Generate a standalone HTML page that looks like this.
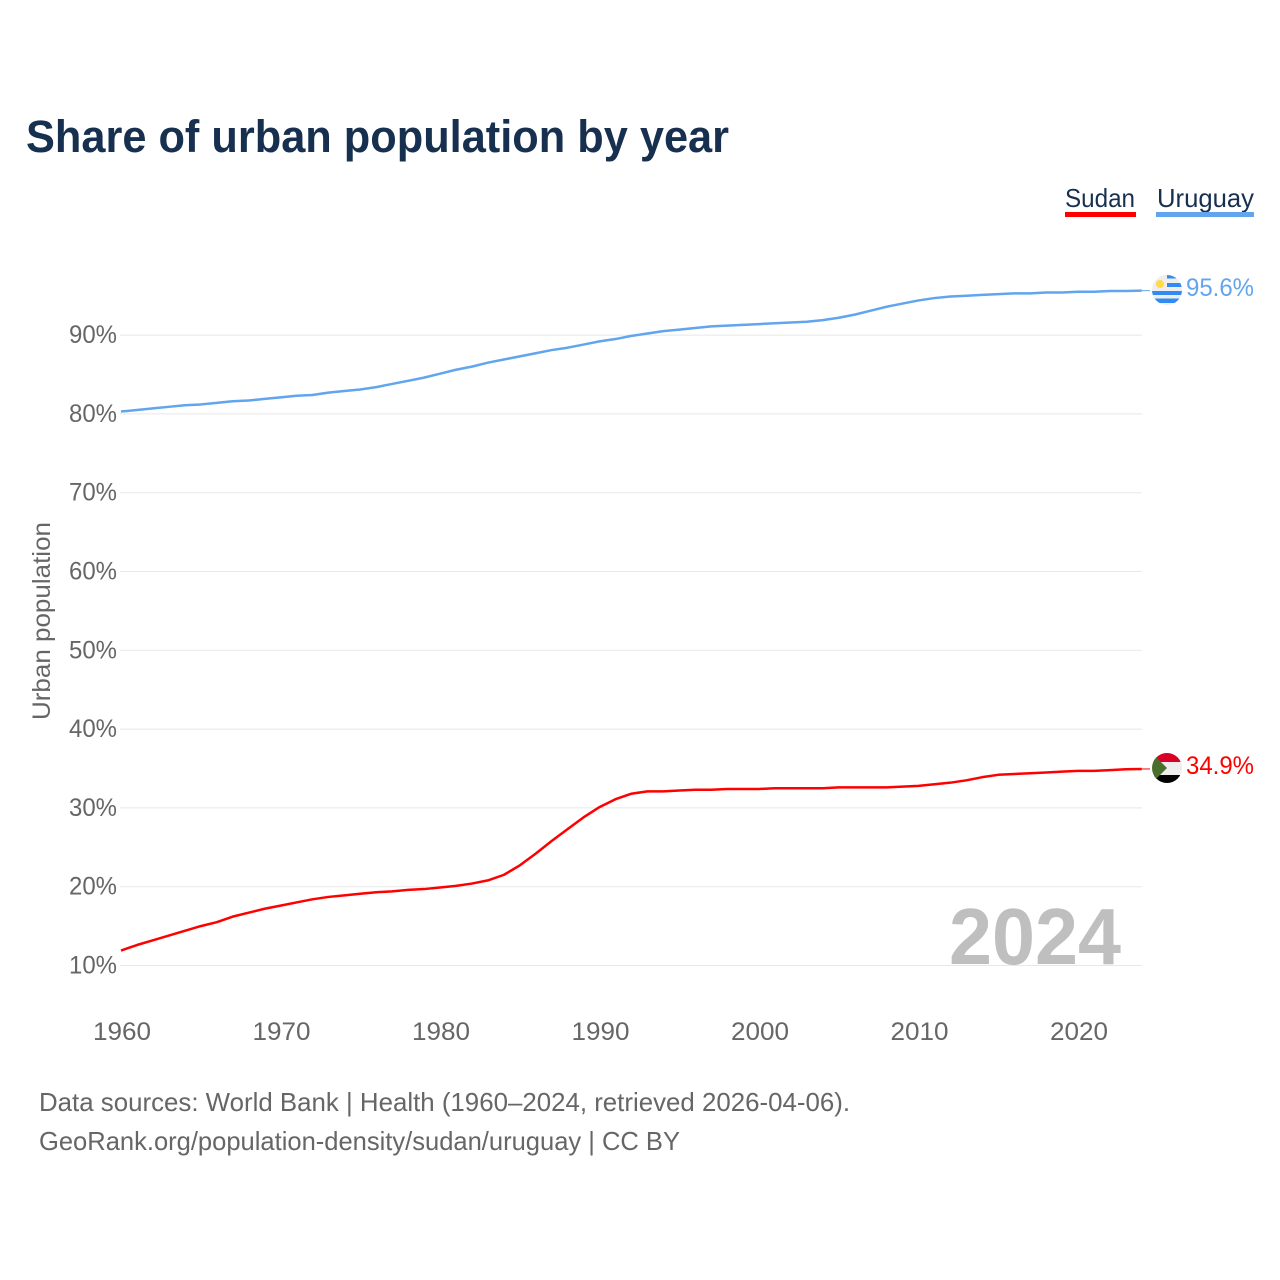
<!DOCTYPE html>
<html lang="en">
<head>
<meta charset="utf-8">
<title>Share of urban population by year</title>
<style>
html,body{margin:0;padding:0;background:#fff;}
svg{display:block;font-family:"Liberation Sans",sans-serif;}
</style>
</head>
<body>
<svg id="chart" xmlns="http://www.w3.org/2000/svg" width="1280" height="1280" viewBox="0 0 1280 1280">
  <defs>
    <clipPath id="clip-uy"><circle cx="1167" cy="290" r="15"/></clipPath>
    <clipPath id="clip-sd"><circle cx="1167" cy="768" r="15"/></clipPath>
  </defs>
  <rect width="1280" height="1280" fill="#fff"/>
  <text x="26" y="152" font-size="45" font-weight="700" fill="#17304f" textLength="703" lengthAdjust="spacingAndGlyphs">Share of urban population by year</text>

  <g>
    <g>
      <text x="1065" y="207" font-size="26" fill="#17304f" textLength="70" lengthAdjust="spacingAndGlyphs">Sudan</text>
      <rect x="1065" y="212" width="71" height="5" fill="#ff0000"/>
    </g>
    <g>
      <text x="1157" y="207" font-size="26" fill="#17304f" textLength="97" lengthAdjust="spacingAndGlyphs">Uruguay</text>
      <rect x="1156" y="212" width="98" height="5" fill="#60a5ee"/>
    </g>
  </g>

  <g id="grid"></g>
  <g id="yticks"></g>
  <g id="xticks"></g>

  <text transform="translate(50,720) rotate(-90)" font-size="25" fill="#666" textLength="198" lengthAdjust="spacingAndGlyphs">Urban population</text>
  <text x="1121" y="964" text-anchor="end" font-size="80" font-weight="700" fill="#bfbfbf" textLength="172" lengthAdjust="spacingAndGlyphs">2024</text>

  <g id="series"></g>

  <g clip-path="url(#clip-uy)">
    <rect x="1152" y="275" width="30" height="30" fill="#eeeeee"/>
    <rect x="1167" y="275" width="15" height="3.5" fill="#338af3"/>
    <rect x="1167" y="283" width="15" height="4" fill="#338af3"/>
    <rect x="1152" y="291" width="30" height="4" fill="#338af3"/>
    <rect x="1152" y="298.5" width="30" height="4.5" fill="#338af3"/>
    <circle cx="1160" cy="284" r="4" fill="#ffda44"/>
  </g>
  <g clip-path="url(#clip-sd)">
    <rect x="1152" y="753" width="30" height="9" fill="#d80027"/>
    <rect x="1152" y="762" width="30" height="13" fill="#eeeeee"/>
    <rect x="1152" y="775" width="30" height="8" fill="#000000"/>
    <polygon points="1152,753 1152,783 1167,768" fill="#496e2d"/>
  </g>

  <text id="label-uy" x="1186" y="296" font-size="25" fill="#60a5ee" textLength="68" lengthAdjust="spacingAndGlyphs"></text>
  <text id="label-sd" x="1186" y="774" font-size="25" fill="#ff0000" textLength="68" lengthAdjust="spacingAndGlyphs"></text>

  <g>
    <text x="39" y="1111" font-size="26" fill="#666" textLength="811" lengthAdjust="spacingAndGlyphs">Data sources: World Bank | Health (1960–2024, retrieved 2026-04-06).</text>
    <text x="39" y="1150" font-size="26" fill="#666" textLength="641" lengthAdjust="spacingAndGlyphs">GeoRank.org/population-density/sudan/uruguay | CC BY</text>
  </g>
</svg>
<script>
var startYear = 1960;
var xTickYears = [1960, 1970, 1980, 1990, 2000, 2010, 2020];
var yTickValues = [10, 20, 30, 40, 50, 60, 70, 80, 90];
var sudanValues = [11.9,12.6,13.2,13.8,14.4,15.0,15.5,16.2,16.7,17.2,17.6,18.0,18.4,18.7,18.9,19.1,19.3,19.4,19.6,19.7,19.9,20.1,20.4,20.8,21.5,22.7,24.2,25.8,27.3,28.8,30.1,31.1,31.8,32.1,32.1,32.2,32.3,32.3,32.4,32.4,32.4,32.5,32.5,32.5,32.5,32.6,32.6,32.6,32.6,32.7,32.8,33.0,33.2,33.5,33.9,34.2,34.3,34.4,34.5,34.6,34.7,34.7,34.8,34.9,34.94];
var uruguayValues = [80.3,80.5,80.7,80.9,81.1,81.2,81.4,81.6,81.7,81.9,82.1,82.3,82.4,82.7,82.9,83.1,83.4,83.8,84.2,84.6,85.1,85.6,86.0,86.5,86.9,87.3,87.7,88.1,88.4,88.8,89.2,89.5,89.9,90.2,90.5,90.7,90.9,91.1,91.2,91.3,91.4,91.5,91.6,91.7,91.9,92.2,92.6,93.1,93.6,94.0,94.4,94.7,94.9,95.0,95.1,95.2,95.3,95.3,95.4,95.4,95.5,95.5,95.6,95.6,95.64];

var NS = 'http://www.w3.org/2000/svg';
function xScale(year) { return 121 + (year - 1960) * 15.95; }
function yScale(pct) { return 965.5 - (pct - 10) * 7.88; }
function make(tag, attrs, parent, text) {
  var el = document.createElementNS(NS, tag);
  for (var k in attrs) el.setAttribute(k, attrs[k]);
  if (text !== undefined) el.textContent = text;
  parent.appendChild(el);
  return el;
}

var grid = document.getElementById('grid');
var yticks = document.getElementById('yticks');
var xticks = document.getElementById('xticks');
var seriesGroup = document.getElementById('series');

yTickValues.forEach(function (v) {
  var line = make('line', {x1: 120, x2: 1142, y1: yScale(v), y2: yScale(v), stroke: '#e8e8e8', 'stroke-width': 1}, grid);
  
  
  var label = make('text', {x: 117, y: yScale(v) + 8, 'text-anchor': 'end', 'font-size': 25, fill: '#666', textLength: 48, lengthAdjust: 'spacingAndGlyphs'}, yticks, v + '%');
  
  
});

xTickYears.forEach(function (yr) {
  var label = make('text', {x: xScale(yr) + 1, y: 1040, 'text-anchor': 'middle', 'font-size': 25, fill: '#666', textLength: 58, lengthAdjust: 'spacingAndGlyphs'}, xticks, String(yr));
  
  
});

function pathFor(values) {
  return values.map(function (v, i) {
    return (i ? 'L' : 'M') + xScale(startYear + i).toFixed(2) + ' ' + yScale(v).toFixed(2);
  }).join(' ');
}
function drawSeries(values, color, name) {
  var line = make('path', {d: pathFor(values), fill: 'none', stroke: color, 'stroke-width': 2.5, 'stroke-linejoin': 'round'}, seriesGroup);
  
  
  var lastValue = values[values.length - 1];
  var lastYear = startYear + values.length - 1;
  var leader = make('line', {x1: xScale(lastYear), x2: 1150, y1: yScale(lastValue), y2: yScale(lastValue), stroke: color, 'stroke-width': 1}, seriesGroup);
  
  
}
drawSeries(sudanValues, '#ff0000', 'sudan');
drawSeries(uruguayValues, '#60a5ee', 'uruguay');

document.getElementById('label-uy').textContent = uruguayValues[uruguayValues.length - 1].toFixed(1) + '%';
document.getElementById('label-sd').textContent = sudanValues[sudanValues.length - 1].toFixed(1) + '%';
</script>
</body>
</html>
